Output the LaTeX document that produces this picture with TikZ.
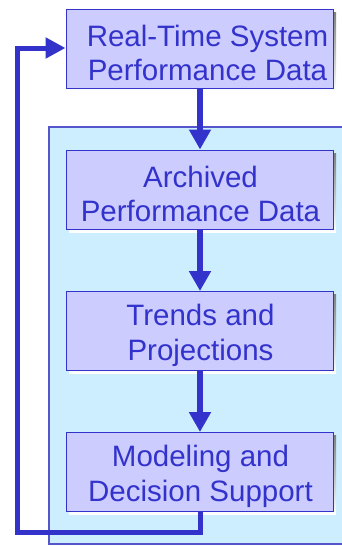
\documentclass[tikz,border=0pt]{standalone}
\usepackage{fontspec}
\setmainfont{Liberation Sans}
\usetikzlibrary{arrows.meta,positioning}
\definecolor{boxfill}{HTML}{CCCCFF}
\definecolor{boxline}{HTML}{3333CC}
\definecolor{contfill}{HTML}{CCEEFF}
\definecolor{contline}{HTML}{5555CC}
\definecolor{shade}{HTML}{808080}
\tikzset{
  flowbox/.style={draw=boxline, line width=1pt, fill=boxfill, minimum width=267pt, minimum height=79pt,
    inner sep=0pt},
  flowtext/.style={inner sep=0pt, align=center, text=boxline, font=\fontsize{29.5}{34.5}\selectfont},
  flowarrow/.style={draw=boxline, line width=6pt, -{Triangle[width=21pt,length=20pt]}},
  backarrow/.style={draw=boxline, line width=5pt, -{Triangle[width=20pt,length=20pt]}}
}
\begin{document}
\begin{tikzpicture}[x=1pt,y=-1pt]
\useasboundingbox (0,0) rectangle (342,546);
% container
\fill[contfill] (49,127) rectangle (346,544);
\draw[contline, line width=1.2pt] (346,127) -- (49,127) -- (49,544) -- (346,544);
% shadows
\foreach \yy in {9,150,291,432} {
  \fill[shade] (69,\yy+3) rectangle (336,\yy+82);
}
\node[flowbox] (rt) at (199.5,48.5) {};
\node[flowbox] (ar) at (199.5,189.5) {};
\node[flowbox] (tr) at (199.5,331) {};
\node[flowbox] (md) at (199.5,472) {};
\node[flowtext] (rtt) at (207.5,53) {Real-Time System\\Performance Data};
\node[flowtext] (art) at (200.5,194) {Archived\\Performance Data};
\node[flowtext] (trt) at (200.5,335.5) {Trends and\\Projections};
\node[flowtext] (mdt) at (200.5,476.5) {Modeling and\\Decision Support};
\draw[flowarrow] (rt.south -| 200,0) -- (ar.north -| 200,0);
\draw[flowarrow] (ar.south -| 200,0) -- (tr.north -| 200,0);
\draw[flowarrow] (tr.south -| 200,0) -- (md.north -| 200,0);
\coordinate (c1) at (200,532);
\coordinate (c2) at (17,532);
\coordinate (c3) at (17,48);
\draw[backarrow, line join=miter] (md.south -| 200,0) -- (c1) -- (c2) -- (c3) -- (rt.west |- c3);
\end{tikzpicture}
\end{document}
